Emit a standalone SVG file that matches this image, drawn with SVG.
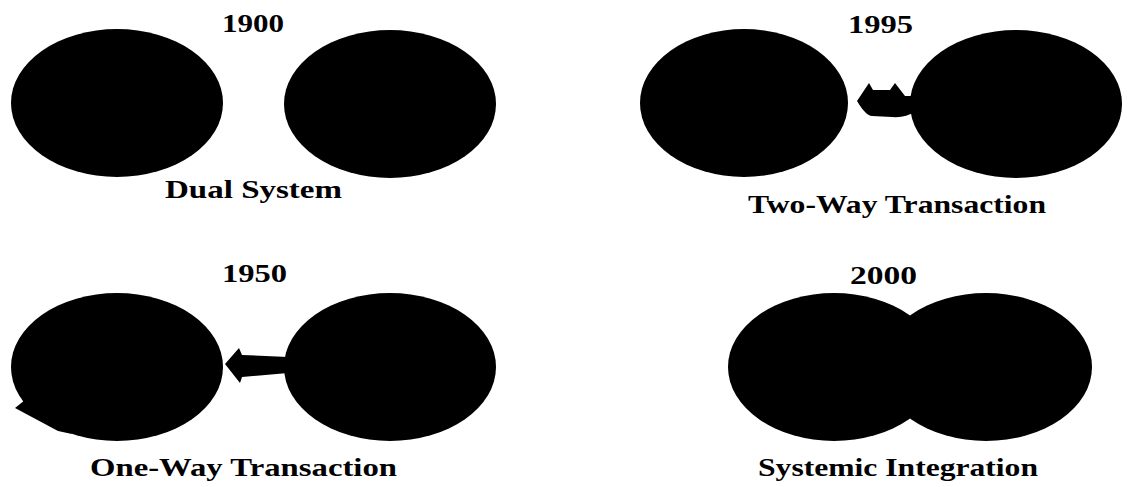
<svg xmlns="http://www.w3.org/2000/svg" width="1135" height="487" viewBox="0 0 1135 487">
<style>
.t{font-family:"Liberation Serif","Times New Roman",serif;font-weight:bold;font-size:26px;fill:#000}
.b{fill:#000}
</style>
<rect width="1135" height="487" fill="#fff"/>
<g id="connectors">
<polygon class="b" points="225,364 239,348 242,355 288,357 288,373 242,377 240,383"/>
<path class="b" d="M857,101 L869,83 L873,90 L890,90 L895,83 L905,96 L916,96 L914,112 Q906,118 892,117 L872,116 Q866,116 857,101 Z"/>
<polygon class="b" points="30,396 15,408 58,431 72,434 48,410"/>
</g>
<g id="p1900">
<ellipse id="n1900a" class="b" cx="117" cy="103" rx="106" ry="74"/>
<ellipse id="n1900b" class="b" cx="390" cy="104" rx="106" ry="74"/>
<text class="t" x="222" y="32" textLength="62" lengthAdjust="spacingAndGlyphs">1900</text>
<text class="t" x="165" y="198" textLength="177" lengthAdjust="spacingAndGlyphs">Dual System</text>
</g>
<g id="p1995">
<ellipse id="n1995a" class="b" cx="744" cy="103" rx="104" ry="74"/>
<ellipse id="n1995b" class="b" cx="1016" cy="104" rx="106" ry="74"/>
<text class="t" x="848" y="33" textLength="65" lengthAdjust="spacingAndGlyphs">1995</text>
<text class="t" x="748" y="213" textLength="298" lengthAdjust="spacingAndGlyphs">Two-Way Transaction</text>
</g>
<g id="p1950">
<ellipse id="n1950a" class="b" cx="117" cy="367" rx="106" ry="74"/>
<ellipse id="n1950b" class="b" cx="390" cy="367" rx="106" ry="74"/>
<text class="t" x="222" y="282" textLength="65" lengthAdjust="spacingAndGlyphs">1950</text>
<text class="t" x="90" y="476" textLength="307" lengthAdjust="spacingAndGlyphs">One-Way Transaction</text>
</g>
<g id="p2000">
<ellipse id="n2000a" class="b" cx="834" cy="367" rx="106" ry="74"/>
<ellipse id="n2000b" class="b" cx="986" cy="367" rx="106" ry="74"/>
<text class="t" x="850" y="284" textLength="67" lengthAdjust="spacingAndGlyphs">2000</text>
<text class="t" x="758" y="476" textLength="280" lengthAdjust="spacingAndGlyphs">Systemic Integration</text>
</g>
</svg>
